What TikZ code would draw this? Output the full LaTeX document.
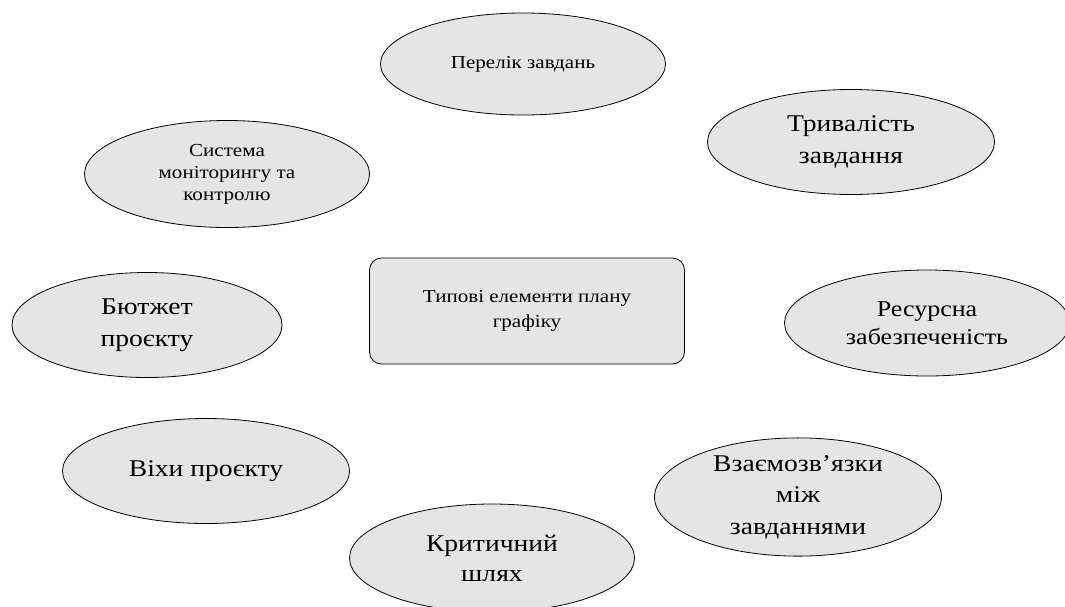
\documentclass[tikz,border=0pt]{standalone}
\usepackage{fontspec}
\setmainfont{Liberation Serif}[FakeStretch=1.15]
\usetikzlibrary{positioning,shapes.geometric}

\tikzset{
  oval/.style={draw, ellipse, fill=gray!20, line width=0.8pt,
    inner sep=0pt, align=center, minimum width=285pt, minimum height=104pt},
  bigtxt/.style={font=\fontsize{24}{31}\selectfont},
  smalltxt/.style={font=\fontsize{18.3}{22}\selectfont}
}

\begin{document}
\begin{tikzpicture}[x=1pt,y=-1pt]
            \useasboundingbox (0,0) rectangle (1065,606);
            \node[draw,
            rounded corners=12pt,
            fill=gray!20,
            line width=0.8pt,
            align=center,
            minimum width = 315pt,
            minimum height = 106pt,
            font=\fontsize{18.3}{25}\selectfont] (plan) at (527,311) {Типові елементи плану\\графіку};
            \node[oval, smalltxt, minimum height=102pt] (tasks) at (523,64) {Перелік завдань};
            \node[oval, bigtxt, minimum width=287pt, minimum height=105pt,
            font=\fontsize{24}{32}\selectfont] (duration) at (851,142) {Тривалість\\завдання};
            \node[oval, smalltxt, minimum height=107pt] (monitor) at (227,174) {Система\\моніторингу та\\контролю};
            \node[oval, bigtxt, minimum width=270pt, minimum height=105pt,
            font=\fontsize{24}{32}\selectfont] (budget) at (147,325) {Бютжет\\проєкту};
            \node[oval, bigtxt, minimum height=106pt,
            font=\fontsize{22.6}{28}\selectfont] (resources) at (927,323) {Ресурсна\\забезпеченість};
            \node[oval, bigtxt, minimum width=287pt, minimum height=105pt] (milestones) at (206,471) {Віхи проєкту};
            \node[oval, bigtxt, minimum width=287pt, minimum height=99pt,
            font=\fontsize{24}{31.5}\selectfont] (links) at (798,497) {Взаємозв’язки\\між\\завданнями};
            \node[oval, bigtxt, minimum width=285pt, minimum height=108pt,
            font=\fontsize{24}{30}\selectfont] (critical) at (492,558) {Критичний\\шлях};
        \end{tikzpicture}
\end{document}
